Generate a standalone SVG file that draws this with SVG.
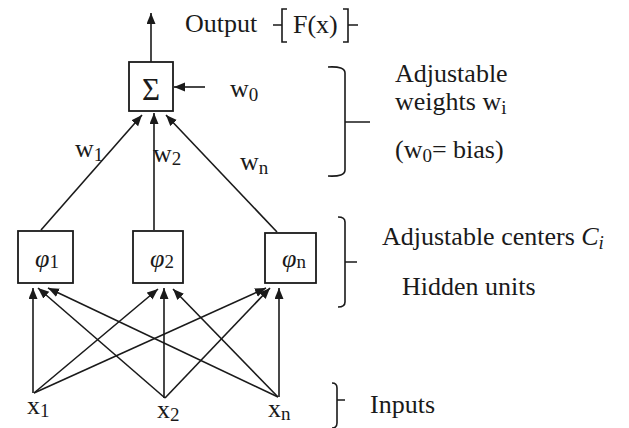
<svg xmlns="http://www.w3.org/2000/svg" width="629" height="428" viewBox="0 0 629 428">
<defs>
<marker id="ah" markerUnits="userSpaceOnUse" markerWidth="12" markerHeight="10" refX="11" refY="4.5" orient="auto">
<path d="M0,0 L11,4.5 L0,9 z" fill="#1a1a1a"/>
</marker>
<style>
text{font-family:"Liberation Serif","Times New Roman",serif;fill:#1a1a1a;font-size:26px}
.sub{font-size:19px}
.math{font-size:26px}
.box{fill:#fff;stroke:#1a1a1a;stroke-width:1.8}
.conn{stroke:#1a1a1a;stroke-width:1.6;fill:none;marker-end:url(#ah)}
.br{stroke:#1a1a1a;stroke-width:1.6;fill:none}
</style>
</defs>
<rect width="629" height="428" fill="#fff"/>

<g id="connectors">
<line class="conn" x1="151" y1="62" x2="151" y2="13"/>
<line class="conn" x1="205" y1="87" x2="174" y2="87"/>
<line class="conn" x1="41" y1="230" x2="142" y2="115"/>
<line class="conn" x1="154" y1="230" x2="154" y2="113"/>
<line class="conn" x1="277" y1="232" x2="166" y2="115"/>
<!-- from x1 -->
<line class="conn" x1="33" y1="393" x2="33" y2="288"/>
<line class="conn" x1="34" y1="393" x2="158" y2="289"/>
<line class="conn" x1="34" y1="393" x2="266" y2="288"/>
<!-- from x2 -->
<line class="conn" x1="165" y1="398" x2="38" y2="288"/>
<line class="conn" x1="164" y1="398" x2="164" y2="288"/>
<line class="conn" x1="165" y1="398" x2="270" y2="288"/>
<!-- from xn -->
<line class="conn" x1="278" y1="397" x2="48" y2="288"/>
<line class="conn" x1="278" y1="397" x2="173" y2="289"/>
<line class="conn" x1="279" y1="397" x2="279" y2="288"/>
</g>

<g id="sum">
<rect class="box" x="129" y="62" width="44" height="49"/>
<text x="151" y="100" text-anchor="middle" style="font-size:31px">Σ</text>
</g>

<g id="phi1">
<rect class="box" x="18" y="231" width="55" height="52"/>
<text x="35" y="267" font-style="italic">φ<tspan class="sub" font-style="normal" dy="1">1</tspan></text>
</g>
<g id="phi2">
<rect class="box" x="133" y="231" width="50" height="52"/>
<text x="150" y="267" font-style="italic">φ<tspan class="sub" font-style="normal" dy="1">2</tspan></text>
</g>
<g id="phin">
<rect class="box" x="265" y="233" width="51" height="50"/>
<text x="282" y="267" font-style="italic">φ<tspan class="sub" font-style="normal" dy="1">n</tspan></text>
</g>

<g id="x1"><text x="27" y="414">x<tspan class="sub" dy="3">1</tspan></text></g>
<g id="x2"><text x="157" y="418">x<tspan class="sub" dy="3">2</tspan></text></g>
<g id="xn"><text x="268" y="417">x<tspan class="sub" dy="3">n</tspan></text></g>

<g id="labels">
<text x="75" y="157">w<tspan class="sub" dy="4">1</tspan></text>
<text x="153" y="162">w<tspan class="sub" dy="3">2</tspan></text>
<text x="240" y="170">w<tspan class="sub" dy="4">n</tspan></text>
<text x="230" y="97">w<tspan class="sub" dy="4">0</tspan></text>
<text x="185" y="32">Output</text>
<text x="293" y="33">F(x)</text>
</g>

<g id="output-bracket">
<path class="br" d="M287,9 L282,9 L282,42 L287,42 M273,25 L282,25"/>
<path class="br" d="M343,9 L348,9 L348,42 L343,42 M348,25 L358,25"/>
</g>

<g id="weights-note">
<path class="br" d="M328,67 Q345,66 345,73 L345,170 Q345,177 328,176 M345,122 L370,122"/>
<text x="395" y="82">Adjustable</text>
<text x="395" y="110">weights w<tspan class="sub" dy="4">i</tspan></text>
<text x="395" y="158">(w<tspan class="sub" dy="4">0</tspan><tspan dy="-4">= bias)</tspan></text>
</g>

<g id="hidden-note">
<path class="br" d="M338,217 Q345,217 345,222 L345,302 Q345,307 338,307 M345,262 L357,262"/>
<text x="382" y="245">Adjustable centers  <tspan font-style="italic">C</tspan><tspan class="sub" font-style="italic" dy="4">i</tspan></text>
<text x="402" y="295">Hidden units</text>
</g>

<g id="inputs-note">
<path class="br" d="M332,383 Q337,383 337,388 L337,423 Q337,428 332,428 M337,400 L345,400"/>
<text x="370" y="413">Inputs</text>
</g>
</svg>
